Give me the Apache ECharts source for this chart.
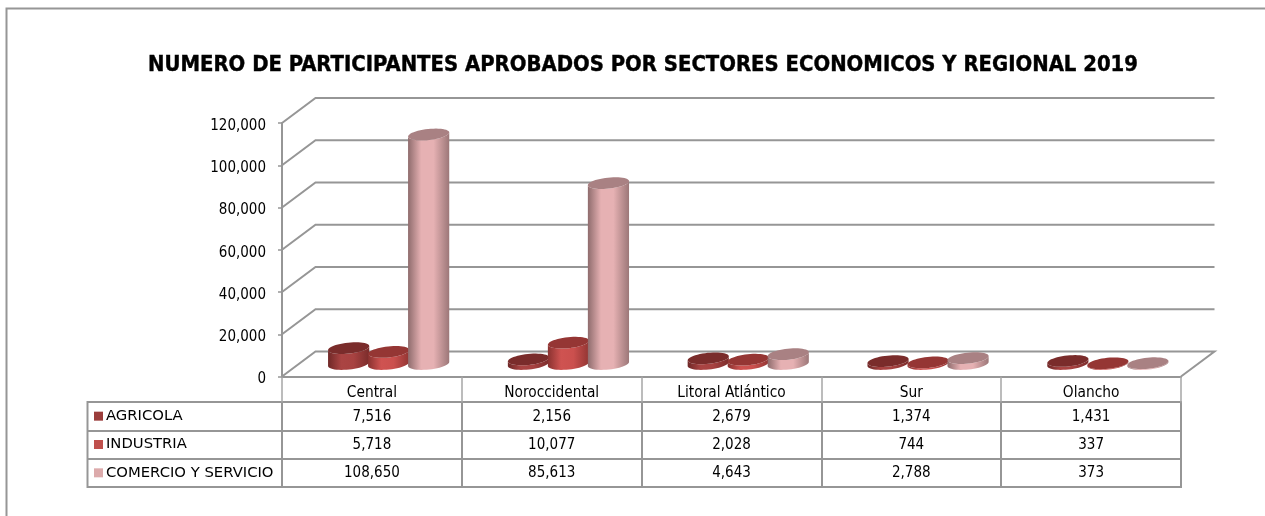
<!DOCTYPE html>
<html>
<head>
<meta charset="utf-8">
<title>Participantes aprobados</title>
<style>
html,body{margin:0;padding:0;background:#fff;}
#chart{width:1265px;height:516px;}
</style>
<script src="https://cdn.jsdelivr.net/npm/echarts@6/dist/echarts.min.js"></script>
</head>
<body>
<div id="chart"></div>
<script>
var categories = ['Central', 'Noroccidental', 'Litoral Atlántico', 'Sur', 'Olancho'];
var seriesNames = ['AGRICOLA', 'INDUSTRIA', 'COMERCIO Y SERVICIO'];
var agricola = [7516, 2156, 2679, 1374, 1431];
var industria = [5718, 10077, 2028, 744, 337];
var comercio = [108650, 85613, 4643, 2788, 373];
var yTicks = [0, 20000, 40000, 60000, 80000, 100000, 120000];

var FONT = '"DejaVu Sans Condensed", "DejaVu Sans", sans-serif';
var GRID_LINE = '#969696';
var DEPTH_X = 33.5, DEPTH_Y = 25;   // oblique offset of the back wall
var RX = 20.7, RY = 5.5, TILT = 6 * Math.PI / 180;

var keyColors = ['#9b3d3b', '#c0504d', '#dcaaab'];
var bodyColors = [
	['#6f2827', '#aa4443', '#a84241', '#7a2c2b'],
	['#8a3230', '#cf5351', '#cb504e', '#923533'],
	['#8f6c6d', '#e6b1b3', '#e6b1b3', '#9c7778']
];
var topColors = ['#7a2c2b', '#953634', '#a98183'];

function fmt(v){
	return Number(v).toLocaleString('en-US');
}

// point on the tilted ellipse at angle a
function ellPoint(cx, cy, a){
	var x = RX * Math.cos(a), y = RY * Math.sin(a);
	return [cx + x * Math.cos(TILT) + y * Math.sin(TILT), cy - x * Math.sin(TILT) + y * Math.cos(TILT)];
}

function cylinderRender(idx){
	return function(params, api){
		var base = api.coord([api.value(0), 0]);
		var top = api.coord([api.value(0), api.value(1)]);
		var band = api.size([1, 0])[0];
		var cx = base[0] + DEPTH_X / 2 + (idx - 1) * band * 0.2225;
		var by = base[1] - DEPTH_Y / 2;
		var ty = top[1] - DEPTH_Y / 2;
		var body = [], cap = [], i;
		// lower half of the base, then up the side and across the top
		for(i = 0; i <= 24; i++){
			body.push(ellPoint(cx, by, Math.PI - Math.PI * i / 24));
		}
		for(i = 0; i <= 24; i++){
			body.push(ellPoint(cx, ty, Math.PI * i / 24));
		}
		for(i = 0; i < 48; i++){
			cap.push(ellPoint(cx, ty, 2 * Math.PI * i / 48));
		}
		var c = bodyColors[idx];
		return {
			type: 'group',
			children: [
				{
					type: 'polygon',
					shape: {points: body},
					style: {
						fill: new echarts.graphic.LinearGradient(0, 0, 1, 0, [
							{offset: 0, color: c[0]},
							{offset: 0.32, color: c[1]},
							{offset: 0.62, color: c[2]},
							{offset: 1, color: c[3]}
						])
					}
				},
				{
					type: 'polygon',
					shape: {points: cap},
					style: {fill: topColors[idx]}
				}
			]
		};
	};
}

function wallRender(params, api){
	var v = api.value(0);
	var left = api.coord([0, v]);
	var right = api.coord([categories.length - 1, v]);
	var band = api.size([1, 0])[0];
	var x0 = left[0] - band / 2;
	var x1 = right[0] + band / 2;
	var y = left[1];
	var pts = [[x0, y], [x0 + DEPTH_X, y - DEPTH_Y], [x1 + DEPTH_X, y - DEPTH_Y]];
	if(v === 0){
		pts.push([x1, y]);
	}
	return {
		type: 'polyline',
		shape: {points: pts},
		style: {stroke: GRID_LINE, lineWidth: 2, fill: null}
	};
}

function cellRender(params, api){
	var p = api.coord([api.value(0), api.value(1)]);
	return {
		type: 'text',
		x: p[0],
		y: p[1] + 0.5,
		style: {
			text: fmt(api.value(2)),
			align: 'center',
			verticalAlign: 'middle',
			fill: '#000',
			font: '15px ' + FONT
		}
	};
}

var rows = [agricola, industria, comercio];
var cellData = [];
rows.forEach(function(r, ri){
	r.forEach(function(v, ci){
		cellData.push([ci, ri, v]);
	});
});

var keyRich = {t: {color: '#000', fontSize: 14.8, fontFamily: '"DejaVu Sans", sans-serif', padding: [0, 0, 0, 3]}};
keyColors.forEach(function(col, i){
	keyRich['k' + i] = {width: 9, height: 9, backgroundColor: col};
});

var chart = echarts.init(document.getElementById('chart'));
var option = {
	animation: false,
	backgroundColor: '#fff',
	title: {
		text: 'NUMERO DE PARTICIPANTES APROBADOS POR SECTORES ECONOMICOS Y REGIONAL 2019',
		left: 148,
		top: 54,
		padding: 0,
		textStyle: {color: '#000', fontFamily: FONT, fontWeight: 'bold', fontSize: 21.87, textBorderColor: '#000', textBorderWidth: 0.4}
	},
	grid: [
		{left: 282, right: 84, top: 123, height: 253.5},
		{left: 282, right: 84, top: 402, height: 85, show: true, borderColor: GRID_LINE, borderWidth: 2}
	],
	xAxis: [
		{
			type: 'category',
			data: categories,
			axisLine: {lineStyle: {color: GRID_LINE, width: 2}},
			axisTick: {show: true, length: 26, interval: 0, lineStyle: {color: '#a6a6a6', width: 1.5}},
			axisLabel: {interval: 0, margin: 9, color: '#000', fontSize: 15.3, fontFamily: FONT},
			splitLine: {show: false}
		},
		{
			type: 'category',
			gridIndex: 1,
			data: categories,
			axisLine: {lineStyle: {color: GRID_LINE, width: 2}},
			axisTick: {show: false},
			axisLabel: {show: false},
			splitLine: {show: true, interval: 0, lineStyle: {color: GRID_LINE, width: 2}}
		}
	],
	yAxis: [
		{
			type: 'value',
			min: 0,
			max: 120000,
			interval: 20000,
			axisLine: {show: true, lineStyle: {color: GRID_LINE, width: 2}},
			axisTick: {show: true, length: 4, lineStyle: {color: GRID_LINE, width: 1.5}},
			axisLabel: {
				margin: 16,
				rich: {a: {color: '#000', fontSize: 15, fontFamily: FONT, padding: [6, 0, 0, 0]}},
				formatter: function(v){ return '{a|' + fmt(v) + '}'; }
			},
			splitLine: {show: false}
		},
		{
			type: 'category',
			gridIndex: 1,
			inverse: true,
			data: seriesNames,
			axisLine: {lineStyle: {color: GRID_LINE, width: 2}},
			axisTick: {show: true, interval: 0, length: 195, lineStyle: {color: GRID_LINE, width: 2}},
			axisLabel: {
				interval: 0,
				align: 'left',
				margin: 188,
				rich: keyRich,
				formatter: function(v, i){ return '{k' + i + '|}{t|' + v + '}'; }
			},
			splitLine: {show: true, interval: 0, lineStyle: {color: GRID_LINE, width: 2}}
		}
	],
	series: [
		{
			name: 'walls',
			type: 'custom',
			renderItem: wallRender,
			data: yTicks.map(function(v){ return [v]; }),
			encode: {y: 0},
			silent: true,
			z: 1
		},
		{name: seriesNames[0], type: 'custom', renderItem: cylinderRender(0), data: agricola.map(function(v, i){ return [i, v]; }), encode: {x: 0, y: 1}, z: 3},
		{name: seriesNames[1], type: 'custom', renderItem: cylinderRender(1), data: industria.map(function(v, i){ return [i, v]; }), encode: {x: 0, y: 1}, z: 4},
		{name: seriesNames[2], type: 'custom', renderItem: cylinderRender(2), data: comercio.map(function(v, i){ return [i, v]; }), encode: {x: 0, y: 1}, z: 5},
		{
			name: 'tabla',
			type: 'custom',
			xAxisIndex: 1,
			yAxisIndex: 1,
			renderItem: cellRender,
			data: cellData,
			encode: {x: 0, y: 1},
			silent: true
		}
	],
	graphic: [
		// chart frame, only top and left show in the crop
		{type: 'polyline', silent: true, shape: {points: [[6.5, 516], [6.5, 8.5], [1265, 8.5]]}, style: {stroke: GRID_LINE, lineWidth: 2, fill: null}},
		// left edge of the table
		{type: 'line', silent: true, shape: {x1: 87.5, y1: 401, x2: 87.5, y2: 488}, style: {stroke: GRID_LINE, lineWidth: 2}}
	]
};
chart.setOption(option);
</script>
</body>
</html>
